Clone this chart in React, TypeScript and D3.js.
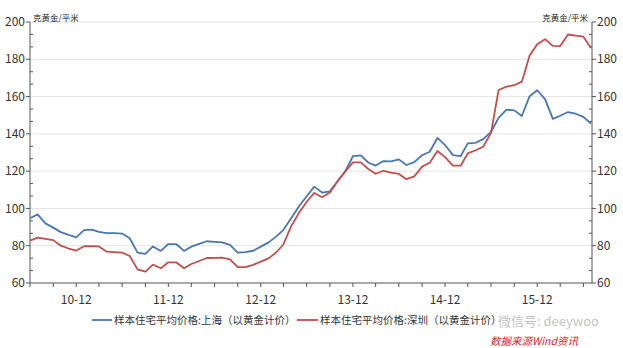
import React from "react";
import * as d3 from "d3";

const startYear = 2010;
const startMonth = 5; // June (0-based)

const shanghai = [
  94.7, 96.8, 92, 89.7, 87.3, 85.8, 84.5, 88.4, 88.6, 87.4, 86.7, 86.7,
  86.5, 84, 76.3, 75.6, 79.6, 77.2, 80.9, 80.9, 77.2, 79.5, 81, 82.4,
  82.1, 81.8, 80.4, 76.3, 76.6, 77.3, 79.5, 81.8, 85, 88.5, 94.9, 101,
  106.5, 111.7, 108.5, 109.2, 114.6, 120, 128, 128.5, 124.5, 123, 125.4, 125.2,
  126.3, 123.3, 124.8, 128.5, 130.4, 137.8, 134, 128.6, 128.1, 134.9, 135.2, 137.2,
  141, 148.6, 153, 152.6, 149.6, 160.2, 163.4, 158.6, 148, 149.7, 151.7, 150.8,
  149.1, 145.5,
];

const shenzhen = [
  82.7, 84.3, 83.7, 83, 80, 78.5, 77.4, 79.7, 79.8, 79.6, 76.8, 76.6,
  76.3, 74.5, 67.3, 66.1, 69.9, 67.9, 71.1, 71.1, 67.9, 70.2, 71.8, 73.4,
  73.5, 73.6, 72.7, 68.5, 68.5, 69.7, 71.5, 73.2, 76.5, 80.8, 90.6, 97.5,
  103.6, 108.3, 106, 108.6, 114.5, 119.8, 124.7, 124.7, 121, 118.6, 120.2, 119.2,
  118.5, 115.7, 117.2, 122.4, 124.5, 130.8, 127.5, 123, 123, 129.5, 131.2, 133.1,
  140.5, 163.5, 165.3, 166.1, 168, 182, 188, 190.8, 187.2, 187.1, 193.3, 192.7,
  192.1, 186,
];

const yTicks = [60, 80, 100, 120, 140, 160, 180, 200];
const xTickLabels = ["10-12", "11-12", "12-12", "13-12", "14-12", "15-12"];
const seriesNames = [
  "样本住宅平均价格:上海（以黄金计价）",
  "样本住宅平均价格:深圳（以黄金计价）",
];
const unitLabel = "克黄金/平米";
const sourceLabel = "数据来源Wind资讯";
const watermark = "微信号: deeywoo";

const W = 623;
const H = 348;
const left = 30;
const right = 592;
const top = 22;
const bottom = 283;

export default function App() {
  const dates = shanghai.map((_, i) => new Date(startYear, startMonth + i, 1));
  const x = d3
    .scaleTime()
    .domain([new Date(2010, 5, 1), new Date(2016, 6, 5)])
    .range([left, right]);
  const y = d3.scaleLinear().domain([60, 200]).range([bottom, top]);

  const line = d3
    .line<number>()
    .x((_, i) => x(dates[i]))
    .y((d) => y(d));

  const quarterTicks: Date[] = [];
  for (let m = 0; m <= 73; m += 3) quarterTicks.push(new Date(2010, 5 + m, 1));
  const majorDates = xTickLabels.map((_, i) => new Date(2010 + i, 11, 1));

  const minorY: number[] = [];
  for (let v = 60; v < 200; v += 20) {
    minorY.push(v + 20 / 3, v + 40 / 3);
  }

  const axisColor = "#555";
  const textColor = "#333";
  const blue = "#4a78ad";
  const red = "#c0504d";
  const font = "'Noto Sans CJK SC', 'Open Sans', sans-serif";

  return (
    <svg
      width={W}
      height={H}
      style={{ position: "absolute", left: 0, top: 0, background: "#fff" }}
      fontFamily={font}
    >
      {/* gridlines */}
      {yTicks.slice(1).map((t) => (
        <line key={"g" + t} x1={left} x2={right} y1={y(t)} y2={y(t)} stroke="#e4e4e4" strokeWidth={1} />
      ))}

      {/* left axis */}
      <line x1={left} x2={left} y1={top} y2={bottom} stroke={axisColor} />
      {yTicks.map((t) => (
        <g key={"l" + t}>
          <line x1={left - 4} x2={left} y1={y(t)} y2={y(t)} stroke={axisColor} />
          <text x={left - 5} y={y(t)} dy="0.35em" textAnchor="end" fontSize={12} fill={textColor}>
            {t}
          </text>
        </g>
      ))}
      {minorY.map((t, i) => (
        <line key={"lm" + i} x1={left} x2={left + 3} y1={y(t)} y2={y(t)} stroke={axisColor} />
      ))}

      {/* right axis */}
      <line x1={right} x2={right} y1={top} y2={bottom} stroke={axisColor} />
      {yTicks.map((t) => (
        <g key={"r" + t}>
          <line x1={right} x2={right + 4} y1={y(t)} y2={y(t)} stroke={axisColor} />
          <text x={right + 5} y={y(t)} dy="0.35em" textAnchor="start" fontSize={12} fill={textColor}>
            {t}
          </text>
        </g>
      ))}
      {minorY.map((t, i) => (
        <line key={"rm" + i} x1={right - 3} x2={right} y1={y(t)} y2={y(t)} stroke={axisColor} />
      ))}

      {/* x axis */}
      <line x1={left} x2={right} y1={bottom} y2={bottom} stroke={axisColor} />
      {quarterTicks.map((d, i) => (
        <line key={"xt" + i} x1={x(d)} x2={x(d)} y1={bottom} y2={bottom + 4} stroke={axisColor} />
      ))}
      {majorDates.map((d, i) => (
        <text key={"xl" + i} x={x(d)} y={bottom + 21} textAnchor="middle" fontSize={12} fill={textColor}>
          {xTickLabels[i]}
        </text>
      ))}

      {/* unit labels */}
      <text x={left + 3} y={top} dy="-0.15em" fontSize={8.5} fill="#222">
        {unitLabel}
      </text>
      <text x={right - 4} y={top} dy="-0.15em" fontSize={8.5} fill="#222" textAnchor="end">
        {unitLabel}
      </text>

      {/* lines */}
      <path d={line(shanghai) || ""} fill="none" stroke={blue} strokeWidth={1.8} strokeLinejoin="round" />
      <path d={line(shenzhen) || ""} fill="none" stroke={red} strokeWidth={1.8} strokeLinejoin="round" />

      {/* legend */}
      <g>
        <line x1={92} x2={112} y1={320} y2={320} stroke={blue} strokeWidth={1.8} />
        <text x={114} y={320} dy="0.35em" fontSize={10.5} fill={textColor}>
          {seriesNames[0]}
        </text>
        <line x1={297} x2={318} y1={320} y2={320} stroke={red} strokeWidth={1.8} />
        <text x={320} y={320} dy="0.35em" fontSize={10.5} fill={textColor}>
          {seriesNames[1]}
        </text>
      </g>

      {/* watermark */}
      <text x={498} y={321} dy="0.35em" fontSize={13} fill="#9a9a9a" opacity={0.6}>
        {watermark}
      </text>

      {/* source */}
      <text x={578} y={341} dy="0.35em" fontSize={10.5} fill="#d01f1f" fontStyle="italic" textAnchor="end">
        {sourceLabel}
      </text>
    </svg>
  );
}
